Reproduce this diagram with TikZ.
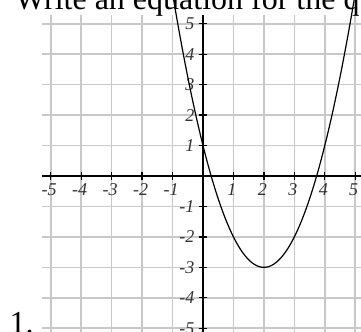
\documentclass[tikz,border=0pt]{standalone}
\usepackage{fontspec}
\setmainfont{Liberation Serif}
\definecolor{gridgray}{RGB}{200,200,200}
\definecolor{labelgray}{RGB}{50,50,50}
\begin{document}
\begin{tikzpicture}[x=30.45pt,y=30.45pt,
  gridline/.style={draw=gridgray,line width=1.6pt},
  axisline/.style={draw=black,line width=1.3pt},
  tickline/.style={draw=black,line width=1.3pt},
  curveline/.style={draw=black,line width=1.2pt},
  ticklabel/.style={text=labelgray,font=\fontsize{18}{19}\selectfont\itshape,inner sep=0pt},
  bigtext/.style={font=\fontsize{32}{38}\selectfont,inner sep=0pt,anchor=base west}]
\useasboundingbox (-6.667,-5.123) rectangle (5.189,5.780);
\begin{scope}
\clip (-6.667,-5.123) rectangle (5.189,5.780);
% grid
\foreach \i in {-5,...,5} {
  \draw[gridline] (\i,-5.3) -- (\i,5.29);
  \draw[gridline] (-5.3,\i) -- (5.4,\i);
}
% axes
\draw[axisline] (-5.3,0) -- (5.4,0);
\draw[axisline] (0,-5.3) -- (0,5.29);
% ticks and labels
\foreach \i in {-5,-4,-3,-2,-1,1,2,3,4,5} {
  \draw[tickline] (\i,-0.13) -- (\i,0.13);
  \draw[tickline] (-0.14,\i) -- (0.14,\i);
  \node[ticklabel,anchor=north] (xl\i) at (\i-0.05,-0.24) {\i};
  \node[ticklabel,anchor=east] (yl\i) at (-0.28,\i) {\i};
}
% parabola
\draw[curveline] plot[domain=-0.99:4.99,samples=120] (\x,{(\x-2)*(\x-2)-3});
% texts
\node[bigtext] (title) at (-6.174,5.452) {Write an equation for the q};
\node[bigtext] (num) at (-6.355,-5.189) {1.};
\end{scope}
\end{tikzpicture}
\end{document}
